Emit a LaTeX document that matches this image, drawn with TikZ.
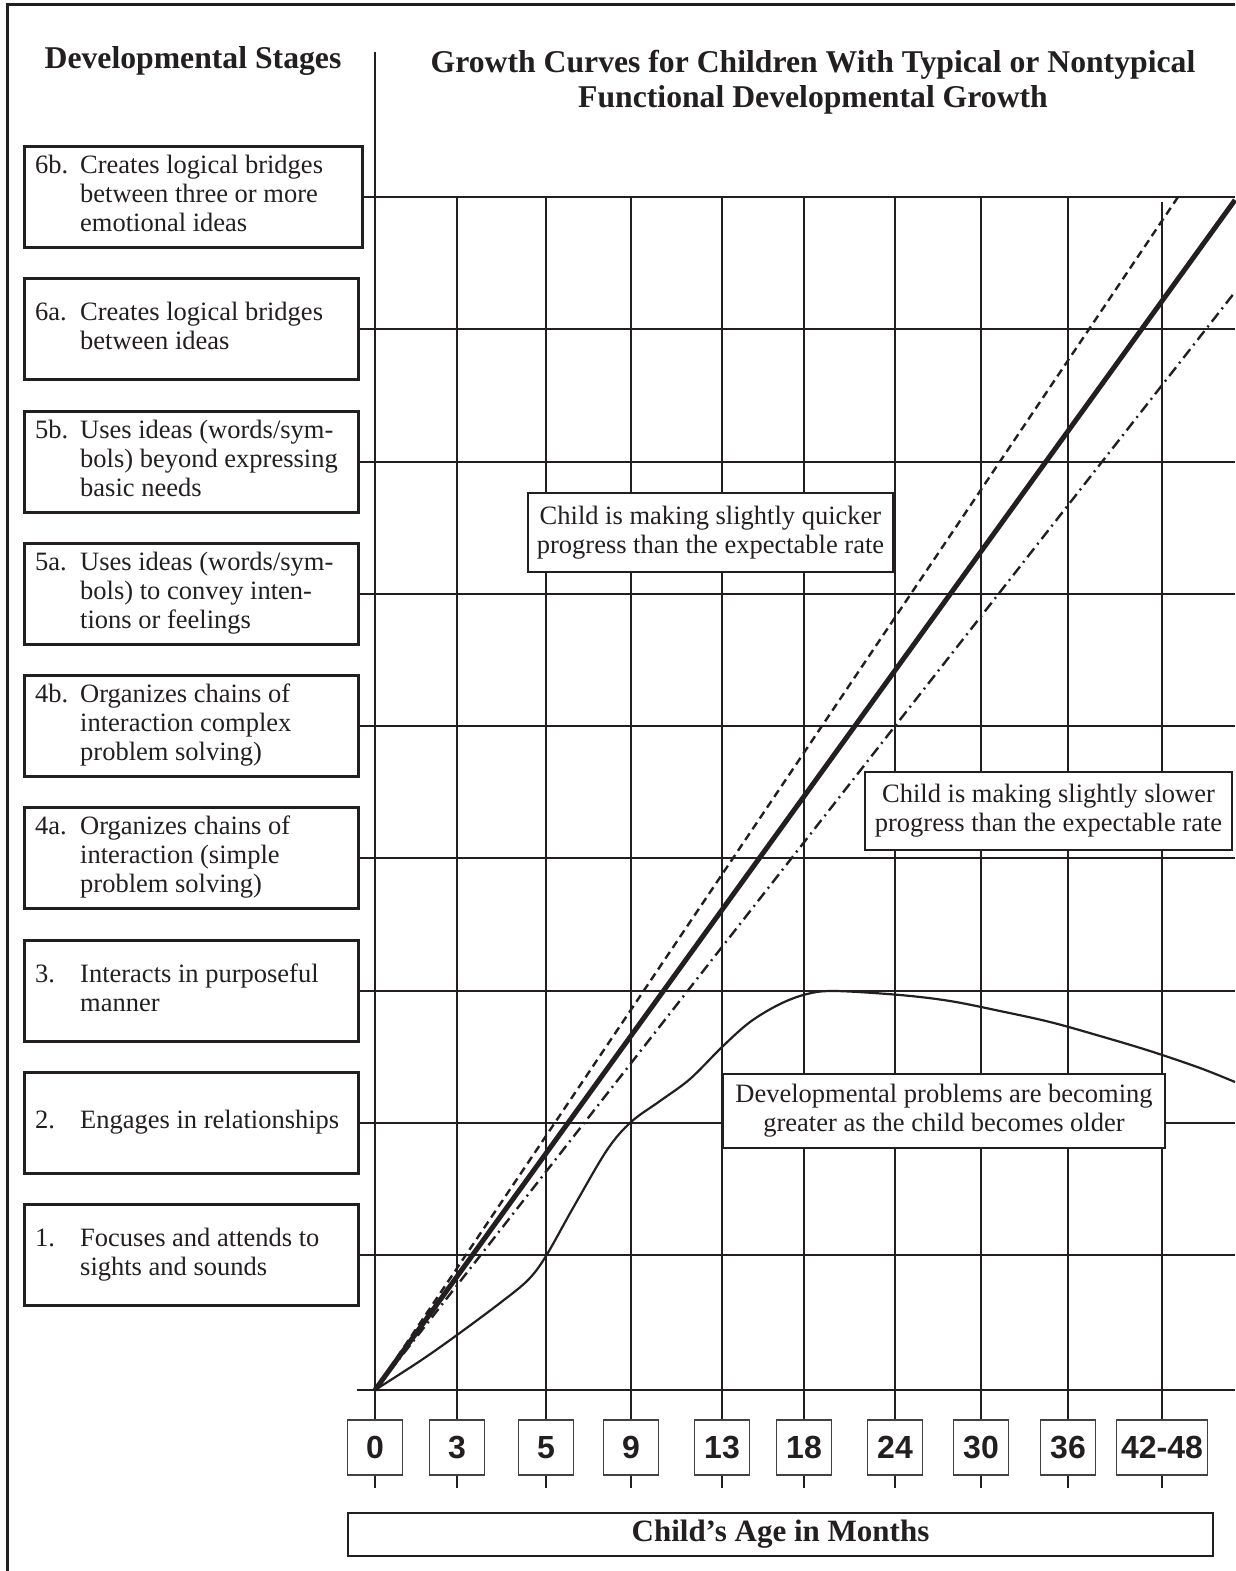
\documentclass[tikz,border=0pt]{standalone}
\usepackage{fontspec}
\setmainfont{Liberation Serif}
\newfontfamily\agefont{Liberation Sans}
\definecolor{ink}{RGB}{35,31,32}
% stage label: number column plus hanging text column
\newcommand\stageitem[2]{\begin{tabular}{@{}p{45pt}@{}l@{}}#1 & #2\end{tabular}}
\begin{document}
\begin{tikzpicture}[x=1pt,y=-1pt,
  gridline/.style={draw=ink, line width=2.4pt},
  outerframe/.style={draw=ink, line width=3pt},
  stagebox/.style={draw=ink, line width=2.5pt, fill=white, minimum width=334pt,
    minimum height=101pt, inner sep=0pt, anchor=west},
  stagetext/.style={anchor=west, inner sep=0pt, text=ink,
    font=\fontsize{26.5}{29}\selectfont},
  notebox/.style={draw=ink, line width=2.5pt, fill=white, inner sep=0pt,
    align=center, text=ink, font=\fontsize{26.5}{29}\selectfont},
  agebox/.style={draw=ink!85, line width=1.6pt, fill=white, minimum width=55pt,
    minimum height=55pt, inner sep=0pt, text=ink,
    font=\agefont\bfseries\fontsize{32}{36}\selectfont},
  heading/.style={text=ink, inner sep=0pt, anchor=base,
    font=\bfseries\fontsize{31.7}{35}\selectfont},
  axisbox/.style={draw=ink, line width=2.5pt, minimum width=865pt,
    minimum height=43pt, inner sep=0pt, text=ink,
    font=\bfseries\fontsize{31}{35}\selectfont},
  expected/.style={draw=ink, line width=5pt},
  quicker/.style={draw=ink, line width=2.4pt, dash pattern=on 8pt off 5pt},
  slower/.style={draw=ink, line width=2.4pt, dash pattern=on 11pt off 5pt on 2pt off 5pt},
  problems/.style={draw=ink, line width=2.2pt},
]
\useasboundingbox (0,0) rectangle (1235,1571);

% outer frame
\draw[outerframe] (7,1571) -- (7,5) -- (1235,5);

% headings
\node[heading] (stagehead) at (193,68) {Developmental Stages};
\node[heading] (title1) at (813,72) {Growth Curves for Children With Typical or Nontypical};
\node[heading] (title2) at (813,107) {Functional Developmental Growth};

% reference points
\coordinate (O) at (375,1390);
\coordinate (axtop) at (375,52);
\coordinate (xl) at (357,1390);
\coordinate (R) at (1235,0);

% stage boxes
\node[stagebox, minimum width=338pt] (s6b) at (23,197) {};
\node[stagebox] (s6a) at (23,329) {};
\node[stagebox] (s5b) at (23,462) {};
\node[stagebox] (s5a) at (23,594) {};
\node[stagebox] (s4b) at (23,726) {};
\node[stagebox] (s4a) at (23,858) {};
\node[stagebox] (s3) at (23,991) {};
\node[stagebox] (s2) at (23,1123) {};
\node[stagebox] (s1) at (23,1255) {};

\node[stagetext] (t6b) at ([xshift=12pt]s6b.west) {\stageitem{6b.}{Creates logical bridges\\ & between three or more\\ & emotional ideas}};
\node[stagetext] (t6a) at ([xshift=12pt]s6a.west) {\stageitem{6a.}{Creates logical bridges\\ & between ideas}};
\node[stagetext] (t5b) at ([xshift=12pt]s5b.west) {\stageitem{5b.}{Uses ideas (words/sym-\\ & bols) beyond expressing\\ & basic needs}};
\node[stagetext] (t5a) at ([xshift=12pt]s5a.west) {\stageitem{5a.}{Uses ideas (words/sym-\\ & bols) to convey inten-\\ & tions or feelings}};
\node[stagetext] (t4b) at ([xshift=12pt]s4b.west) {\stageitem{4b.}{Organizes chains of\\ & interaction complex\\ & problem solving)}};
\node[stagetext] (t4a) at ([xshift=12pt]s4a.west) {\stageitem{4a.}{Organizes chains of\\ & interaction (simple\\ & problem solving)}};
\node[stagetext] (t3) at ([xshift=12pt]s3.west) {\stageitem{3.}{Interacts in purposeful\\ & manner}};
\node[stagetext] (t2) at ([xshift=12pt]s2.west) {\stageitem{2.}{Engages in relationships}};
\node[stagetext] (t1) at ([xshift=12pt]s1.west) {\stageitem{1.}{Focuses and attends to\\ & sights and sounds}};

% horizontal grid lines from each stage box
\foreach \s in {s6b,s6a,s5b,s5a,s4b,s4a,s3,s2,s1}
  \draw[gridline] (\s.east) -- (\s.east -| R);

% axes
\draw[gridline] (axtop) -- (O);
\draw[gridline] (xl) -- (xl -| R);

% age boxes with vertical grid lines and ticks
\foreach \x/\lab/\w/\top [count=\i] in {375/0/55/1390, 457/3/55/197, 546/5/55/197,
    631/9/55/197, 722/13/55/197, 804/18/55/197, 895/24/55/197, 981/30/55/197,
    1068/36/55/197, 1162/42-48/91/202} {
  \node[agebox, minimum width=\w] (age\i) at (\x,1447.5) {\lab};
  \draw[gridline] (\x,\top) -- (age\i.north);
  \draw[gridline] (age\i.south) -- ++(0,12);
}

% growth curves
\draw[quicker] (O) -- (1178,197);
\draw[slower] (O) -- (1235,292);
\draw[expected] (O) -- (1235,200);
\draw[problems] plot[smooth, tension=0.55] coordinates {
  (375,1390) (420,1361) (457,1335) (500,1303) (528,1280) (546,1256)
  (573,1208) (607,1150) (631,1122) (660,1101) (690,1079) (722,1047)
  (750,1022) (780,1004) (807,994) (835,991) (900,995) (950,1001)
  (1000,1011) (1050,1022) (1100,1036) (1150,1051) (1200,1068) (1235,1082)};

% notes
\node[notebox, minimum width=365pt, minimum height=79pt] (nq) at (710.5,532.5)
  {Child is making slightly quicker\\progress than the expectable rate};
\node[notebox, minimum width=367pt, minimum height=78pt] (ns) at (1048.5,811)
  {Child is making slightly slower\\progress than the expectable rate};
\node[notebox, minimum width=442pt, minimum height=74pt] (nd) at (944,1111)
  {Developmental problems are becoming\\greater as the child becomes older};

% axis caption
\node[axisbox] (agecap) at (780.5,1534.5) {Child’s Age in Months};
\end{tikzpicture}
\end{document}
